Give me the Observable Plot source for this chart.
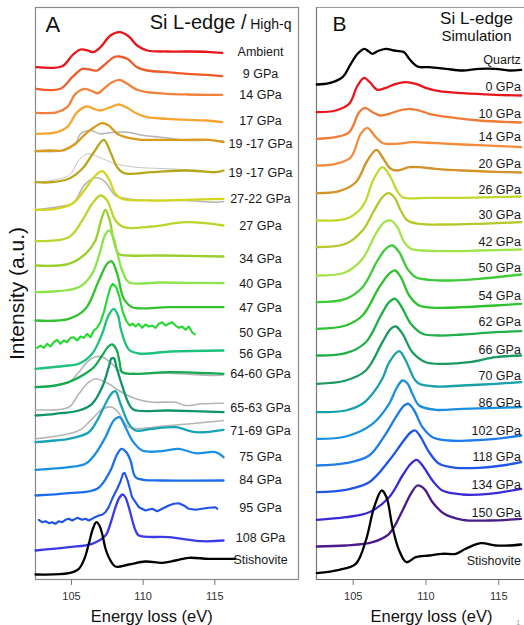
<!DOCTYPE html>
<html><head><meta charset="utf-8">
<script src="https://cdn.jsdelivr.net/npm/d3@7"></script>
<script src="https://cdn.jsdelivr.net/npm/@observablehq/plot@0.6"></script>
<style>
body{margin:0;background:#fff;}
#wrap{position:relative;width:524px;height:625px;overflow:hidden;}
#a,#b{position:absolute;top:0;}
#a{left:0;} #b{left:262px;}
</style></head><body><div id="wrap"><div id="a"></div><div id="b"></div></div>
<script>
// ---------- Panel A : experiment (Si L-edge / High-q) ----------
const labelsA = ["Ambient","9 GPa","14 GPa","17 GPa","19 -17 GPa","19 -17 GPa","27-22 GPa","27 GPa","34 GPa","40 GPa","47 GPa","50 GPa","56 GPa","64-60 GPa","65-63 GPa","71-69 GPa","75 GPa","84 GPa","95 GPa","108 GPa","Stishovite"];
const labelYA = [528,506,485,459,436,407,381,354,321,296,272,247,226,206,172,149,123,100,72,42,20];
const noisyA = [11,18];
const spectraA = [
 [[102.54,512.3],[104.35,513.3],[105.05,524],[105.63,530],[106.14,529],[106.51,527.3],[107.02,532.3],[107.72,544],[108.35,547.3],[109.00,543],[109.58,534],[110.28,529],[111.68,528],[113.07,528],[114.47,527.7],[115.52,526.7]],
 [[102.54,490.7],[104.23,490.7],[105.05,502.3],[105.75,510.7],[106.28,510],[106.79,509],[107.25,514],[107.95,522.3],[108.30,523],[108.89,520.7],[109.58,512.3],[110.28,509],[111.68,507.3],[113.07,505.7],[114.47,504.7],[115.52,503.3]],
 [[102.54,466.7],[104.00,467.3],[104.70,472.3],[105.28,485.7],[105.93,490.7],[106.44,488.3],[106.86,486.3],[107.25,490.7],[107.84,497.3],[108.35,499.7],[108.89,495.7],[109.58,489.7],[110.28,487.3],[111.68,485.7],[113.07,485],[114.47,484.7],[115.52,484.7]],
 [[102.54,445.7],[104.00,447.3],[104.70,452.3],[105.40,467.3],[106.05,473],[106.56,470.7],[107.02,469],[107.72,472.3],[108.30,475],[108.89,471.7],[109.58,465.7],[110.28,462.3],[111.68,460.7],[113.07,459.7],[114.47,459],[115.52,457.3]],
 [[102.49,428.3],[103.53,429],[104.35,429],[105.28,435.7],[105.98,445.7],[106.56,452],[107.14,456.3],[107.60,454],[108.19,445.7],[108.77,442.3],[109.82,439.7],[110.63,439.7],[112.96,439.7],[114.58,439.7],[115.61,437.3]],
 [[102.49,397.3],[103.65,397.3],[104.81,400.7],[105.75,410.7],[106.56,427.3],[107.25,439.7],[107.72,427.3],[108.19,412.3],[108.65,406.3],[110.63,407.3],[112.96,409],[115.05,407.3],[115.61,409]],
 [[102.49,369.7],[103.88,370.7],[105.05,375.7],[105.98,390.7],[106.56,402.3],[107.14,408.3],[107.60,400.7],[108.07,385.7],[108.54,380.7],[110.63,379],[112.96,379.7],[115.61,380.7]],
 [[102.49,338.3],[104.81,342.3],[105.75,359],[106.44,375.7],[107.02,384],[107.49,379],[108.07,359],[108.65,352.3],[110.63,353],[112.96,357.3],[115.61,354]],
 [[102.49,314],[104.81,315.7],[105.98,325.7],[106.67,339],[107.06,359],[107.37,369.7],[107.67,359],[107.95,339],[108.30,325.7],[109.00,324],[111.21,324],[115.61,323]],
 [[102.49,287.3],[105.51,292.3],[106.44,305.7],[107.02,329],[107.30,343],[107.60,349],[107.90,343],[108.19,327],[108.54,309],[109.00,297.3],[111.21,297],[115.61,296.3]],
 [[102.49,259],[104.81,260.7],[105.98,270.7],[106.91,299],[107.49,315.7],[107.79,318.3],[108.19,305.7],[108.65,280.7],[109.24,272.3],[111.79,272.3],[115.61,272.3]],
 [[102.60,231.7],[102.84,234],[103.07,231.7],[103.30,235.7],[103.53,233],[103.77,237.3],[104.00,239.7],[104.23,235.7],[104.47,239],[104.70,237.3],[104.93,241.7],[105.16,242.3],[105.40,239],[105.63,243],[105.86,241.7],[106.09,245.7],[106.33,242.3],[106.56,249],[106.79,251.7],[107.02,257.3],[107.26,267.3],[107.49,280.7],[107.72,292.3],[107.88,295.7],[108.12,292.3],[108.35,282.3],[108.58,267.3],[108.81,259],[109.05,254],[109.28,255.7],[109.47,253],[109.70,255.7],[109.93,251.7],[110.16,255],[110.40,253],[110.63,254],[110.86,251.7],[111.09,255.7],[111.33,257.3],[111.56,254],[111.79,255.7],[112.03,257.3],[112.26,254],[112.49,251.7],[112.72,253],[112.96,249.7],[113.19,253],[113.42,247.3],[113.61,245]],
 [[102.49,210.7],[104.81,214],[105.51,215.7],[106.44,225.7],[107.14,245.7],[107.58,264],[107.95,270.7],[108.25,264],[108.45,250],[109.00,230],[109.70,226],[111.91,228],[115.61,229]],
 [[102.49,192.3],[103.88,194],[104.81,197.3],[105.75,204],[106.56,212.3],[107.14,224],[107.58,233],[107.84,235],[108.14,230],[108.35,218],[108.54,207.3],[109.47,205.7],[111.79,207.3],[115.61,205.7]],
 [[102.49,164],[103.88,165.7],[105.51,169],[106.44,175.7],[107.14,192.3],[107.60,212.3],[107.79,221],[107.97,221],[108.14,212.3],[108.42,199],[109.00,175.7],[109.35,169.7],[111.79,169],[115.61,167.3]],
 [[102.49,137.3],[103.88,139],[104.81,140.7],[106.21,147.3],[106.79,159],[107.49,179],[107.86,187],[108.07,188.3],[108.42,175.7],[109.00,155.7],[109.47,149],[110.63,150.7],[112.26,152.3],[113.65,147.3],[115.61,149.7]],
 [[102.49,109.7],[104.81,112.3],[105.98,115.7],[106.67,125.7],[107.37,142.3],[107.95,159],[108.35,162.3],[108.77,152.3],[109.24,139],[109.93,129],[111.33,128.3],[112.49,130.7],[113.65,126.3],[115.05,127.3],[115.61,122.3]],
 [[102.49,84],[104.81,86.3],[106.79,90.7],[107.72,109],[108.14,124],[108.49,130.7],[108.84,127],[109.12,119],[109.47,102.3],[110.05,99.7],[111.21,99],[115.61,99]],
 [[102.72,59.7],[102.95,57.3],[103.19,58.3],[103.42,56.3],[103.65,57.3],[103.88,55.7],[104.12,58.3],[104.35,57.3],[104.58,59.7],[104.81,60.7],[105.05,59],[105.40,61.7],[105.74,59.7],[105.98,60.7],[106.21,59],[106.56,61.7],[106.91,64],[107.14,64.7],[107.37,67.3],[107.60,72.3],[107.84,80.7],[108.19,90.7],[108.42,98],[108.60,106],[108.72,106.5],[108.92,99],[109.23,82.3],[109.70,72.3],[110.16,69],[110.63,70.7],[110.98,68.3],[111.33,70.7],[111.79,74],[112.14,75.7],[112.49,76.3],[112.84,74],[113.19,70.7],[113.65,69.7],[114.12,70.7],[114.58,71.7],[115.05,72.3],[115.17,70.7]],
 [[102.49,29],[104.81,32.3],[106.44,35.7],[107.37,44],[107.72,56],[108.07,72.3],[108.35,82],[108.58,85],[108.77,82],[109.00,72.3],[109.47,49],[109.70,44],[111.79,42.3],[114.12,38.3],[115.61,39]],
 [[102.49,5],[104.81,6.3],[105.51,10.7],[105.91,21],[106.21,35.7],[106.50,51],[106.74,57.3],[106.95,54],[107.14,45.7],[107.37,31],[107.60,22.3],[108.07,13],[109.00,15],[110.16,18],[111.33,16.7],[112.26,19],[113.19,21.7],[114.58,20.7],[116.44,20.7]]
];
// grey reference spectra drawn under some of the experimental curves
const refIndexA = [4,5,6,13,14,15];
const refSpectraA = [
 [[102.49,428.3],[104.35,429],[105.28,436],[105.63,445.7],[106.33,449],[107.02,445.7],[107.95,447.3],[108.89,447.3],[110.05,444],[111.21,442.3],[112.14,440.7],[113.07,439],[114.5,439.3],[115.61,438.5]],
 [[102.49,397],[104.81,404],[105.51,419],[106.10,425.7],[106.91,422.3],[108.07,415.7],[109.47,412.3],[111.79,410.7],[114.12,409]],
 [[102.49,369.7],[105.05,375.7],[105.28,379],[105.98,395.7],[106.79,401.7],[107.37,397.3],[108.07,384],[109.47,379.7],[112.96,379],[115.05,377.3],[115.61,378]],
 [[102.49,192.3],[104.81,197.3],[105.51,207.3],[106.21,219],[106.74,223],[107.23,222],[107.86,215],[108.54,207.3],[111.79,206.3],[115.05,204],[115.61,204.5]],
 [[102.49,169.7],[104.81,172.3],[105.51,185.7],[106.21,197.3],[106.67,200.7],[107.60,195.7],[108.30,189],[109.47,180.7],[110.63,177.3],[112.26,177.3],[112.96,174],[114.12,175.7],[115.61,176.3]],
 [[102.49,140.7],[105.51,149],[106.44,160.7],[107.23,171],[107.84,172.3],[108.28,167],[109.00,152.3],[111.79,154],[115.61,159]]
];

// ---------- Panel B : simulation ----------
const labelsB = ["Quartz","0 GPa","10 GPa","14 GPa","20 GPa","26 GPa","30 GPa","42 GPa","50 GPa","54 GPa","62 GPa","66 GPa","70 GPa","86 GPa","102 GPa","118 GPa","134 GPa","150 GPa","Stishovite"];
const labelYB = [519.7,493,465.7,442.3,415.7,389.7,364.7,337.3,311.3,284,257.3,229.7,204,176.3,149,122.3,95,66.3,18.3];
const spectraB = [
 [[102.50,495],[103.35,496.3],[104.27,502.3],[104.84,515.7],[105.30,525.7],[105.76,530.7],[106.05,528.3],[106.33,525.7],[106.67,528.3],[107.24,530.7],[107.82,529],[108.16,528.3],[108.50,527.3],[108.85,520.7],[109.42,513],[110.22,512.3],[111.36,510.7],[112.51,509],[113.65,510.7],[114.79,510.7],[115.71,509],[116.54,509.7]],
 [[102.50,467.3],[103.80,469],[104.73,475.7],[105.30,494],[105.76,501.7],[106.14,497.3],[106.67,489.7],[107.24,491.7],[107.93,495.7],[108.61,497.3],[109.30,495.7],[109.99,491.7],[110.91,488.3],[112.51,486.3],[114.79,484.7],[116.54,484]],
 [[102.50,440.7],[103.80,442.3],[104.73,447.3],[105.41,467.3],[105.82,471.7],[106.33,467.3],[106.90,464],[107.47,465.7],[108.16,469],[108.85,470.7],[109.53,469],[110.22,465.7],[111.59,462.3],[113.65,459],[116.54,457]],
 [[102.50,414],[103.80,415.7],[104.84,422.3],[105.52,445.7],[105.98,451.7],[106.55,442.3],[107.06,436.3],[107.93,435.7],[109.07,437.3],[110.67,436.3],[112.51,435],[114.79,433.7],[116.54,432.3]],
 [[102.50,386.3],[104.04,388.3],[105.18,397.3],[105.98,419],[106.60,429.7],[107.01,422.3],[107.58,410.7],[108.04,409],[108.85,412.3],[109.53,412.3],[110.67,410.7],[112.51,409],[114.79,407.7],[116.54,407]],
 [[102.50,359],[104.49,360.7],[105.41,369],[105.87,379],[106.33,398],[107.01,412.3],[107.58,402],[108.04,388],[108.39,382.3],[110.22,381.7],[112.51,381.7],[114.79,382.3],[116.54,383]],
 [[102.50,332.3],[104.49,335.7],[105.64,349],[106.44,369],[107.01,382.3],[107.42,386.3],[107.82,382.3],[108.27,369],[108.73,359],[109.53,355.7],[111.36,355],[113.65,355.7],[116.54,357.3]],
 [[102.50,304],[104.49,307.3],[105.64,320.7],[106.55,345.7],[107.13,357.3],[107.58,359],[108.04,352.3],[108.50,337.3],[108.96,330.7],[109.76,329],[111.59,328.3],[113.65,329],[116.54,330]],
 [[102.50,277.3],[104.49,280.7],[105.64,292.3],[106.67,319],[107.24,330.7],[107.70,334],[108.16,327.3],[108.73,310.7],[109.30,302.3],[110.22,299.7],[111.59,299],[113.65,300.7],[116.54,305]],
 [[102.50,250.7],[104.49,254],[105.64,264],[106.79,292.3],[107.47,305.7],[107.88,309],[108.27,302.3],[108.85,284],[109.53,274],[110.67,271.7],[112.51,272.3],[114.79,274],[116.54,275.7]],
 [[102.50,224],[104.49,226.3],[105.87,237.3],[106.90,264],[107.47,277.3],[107.88,280.7],[108.27,274],[108.96,255.7],[109.76,245.7],[110.91,244],[112.51,245],[114.79,247.3],[116.54,248.3]],
 [[102.50,195.7],[104.49,199],[105.87,209],[107.01,237.3],[107.58,250.7],[107.93,253],[108.39,245.7],[109.07,227.3],[109.99,217.3],[111.13,215.7],[112.97,217.3],[114.79,222.3],[116.54,224]],
 [[102.50,167.3],[104.49,169],[105.64,175.7],[106.33,185.7],[107.01,201],[107.47,217],[108.16,228.3],[108.61,219],[109.19,200.7],[109.53,195.7],[110.67,193],[112.51,194],[114.79,195.7],[116.54,197.3]],
 [[102.50,140.7],[104.49,143],[106.33,155.7],[107.47,175.7],[107.97,191],[108.39,199],[108.73,196],[109.07,185.7],[109.53,174],[110.67,169.7],[112.51,170.7],[114.79,171.7],[116.54,172.3]],
 [[102.50,114],[104.49,116.3],[106.10,124],[107.24,145.7],[107.93,162.3],[108.50,174],[108.80,175.7],[109.19,169],[109.76,152.3],[110.45,142.3],[111.59,139],[112.97,139],[114.79,140.7],[116.54,144]],
 [[102.50,87.3],[104.49,89.7],[106.10,97.3],[107.47,119],[108.39,137.3],[108.96,147.3],[109.26,149],[109.64,142.3],[110.22,127.3],[110.91,115.7],[112.05,111.7],[113.65,111.7],[115.25,114],[116.54,117.3]],
 [[102.50,59.7],[104.49,62.3],[106.10,67.3],[107.47,82.3],[108.39,104],[108.96,115.7],[109.35,119.7],[109.76,114],[110.45,99],[111.13,89],[112.51,85],[114.34,85.7],[116.54,90.7]],
 [[102.50,33],[104.49,34],[106.33,37.3],[107.47,45.7],[108.39,69],[108.96,85.7],[109.42,94],[109.88,90.7],[110.45,77.3],[111.25,65.7],[112.51,59.7],[114.34,59],[116.54,60.7]],
 [[102.50,6.3],[104.04,9.7],[105.18,15.7],[105.87,39],[106.44,72.3],[106.96,89],[107.29,82.3],[107.70,52.3],[108.16,29],[108.66,17.3],[109.30,22.3],[110.22,24],[111.13,25.7],[112.05,25.7],[112.73,30.7],[113.76,36.3],[114.79,34],[115.71,34],[116.54,35]]
];
const ticksX = [105,110,115];

// ---------- styles ----------
const colorsA = ["#e8161b","#ef5b2a","#f2813a","#f6a531","#d99a1e","#b7a71e","#d3d51f","#bcd52d","#99cf2b","#8de34c","#34c12f","#24d830","#1fc27c","#17a94f","#119568","#19a3b5","#1c8fe1","#1a6ee9","#1f52e6","#3b3be8","#000000"];
const colorsB = ["#000000","#e8161b","#f07a38","#f28b3c","#d09428","#c2d82b","#b6c72a","#a0e44a","#3ecb3a","#2dc22d","#22ae48","#1a9960","#17a1a9","#1b8fe0","#1e7ce8","#1f55e6","#3a2ad6","#4b1b8c","#000000"];
const FONT = "'Liberation Sans', Arial, Helvetica, sans-serif";

const toRows = (spectra, ids) => spectra.flatMap((pts, k) => pts.map(([x, y]) => ({x, y, i: ids ? ids[k] : k})));
const rowsA = toRows(spectraA);
const refRowsA = toRows(refSpectraA, refIndexA);
const rowsB = toRows(spectraB);

const plotA = Plot.plot({
  width: 300, height: 625,
  marginLeft: 35, marginRight: 2, marginTop: 7, marginBottom: 46,
  style: {fontFamily: FONT, background: "transparent"},
  x: {domain: [102.49, 120.84], axis: null},
  y: {domain: [0, 572], axis: null},
  color: {type: "identity"},
  marks: [
    Plot.frame({stroke: "#8a8a8a", strokeWidth: 1.2}),
    Plot.axisX({ticks: ticksX, tickSize: 6, tickPadding: 7, fontSize: 11, stroke: "#777", fill: "#333", label: null}),
    Plot.line(refRowsA.filter(d => d.i !== 5), {x: "x", y: "y", z: "i", stroke: "#b5b5b5", strokeWidth: 1.6, curve: "catmull-rom"}),
    Plot.line(refRowsA.filter(d => d.i === 5), {x: "x", y: "y", z: "i", stroke: "#c4c4c4", strokeWidth: 1, curve: "catmull-rom"}),
    Plot.line(rowsA.filter(d => !noisyA.includes(d.i)), {x: "x", y: "y", z: "i", stroke: d => colorsA[d.i], strokeWidth: 2.3, curve: "catmull-rom", strokeLinejoin: "round"}),
    Plot.line(rowsA.filter(d => noisyA.includes(d.i)), {x: "x", y: "y", z: "i", stroke: d => colorsA[d.i], strokeWidth: 2.1, curve: "linear", strokeLinejoin: "round"}),
    Plot.text(labelsA, {x: () => 118.19, y: (d, i) => labelYA[i], text: d => d, textAnchor: "middle", lineAnchor: "middle", fontSize: 12.5, fill: "#1a1a1a"}),
    Plot.text(["A"], {frameAnchor: "top-left", dx: 10, dy: 24, lineAnchor: "bottom", textAnchor: "start", fontSize: 22, fill: "#111"}),
    Plot.text(["Si L-edge /"], {frameAnchor: "top-right", dx: -52, dy: 21, lineAnchor: "bottom", textAnchor: "end", fontSize: 20, fill: "#111"}),
    Plot.text(["High-q"], {frameAnchor: "top-right", dx: -7, dy: 21, lineAnchor: "bottom", textAnchor: "end", fontSize: 14, fill: "#111"}),
    Plot.text(["Intensity (a.u.)"], {frameAnchor: "left", dx: -18, rotate: -90, textAnchor: "middle", lineAnchor: "middle", fontSize: 21, fill: "#111"}),
    Plot.text(["Energy loss (eV)"], {x: [110.6], frameAnchor: "bottom", dy: 42, lineAnchor: "bottom", textAnchor: "middle", fontSize: 16.5, fill: "#111"})
  ]
});
document.getElementById("a").append(plotA);

const plotB = Plot.plot({
  width: 262, height: 625,
  marginLeft: 54, marginRight: 0, marginTop: 7, marginBottom: 46,
  style: {fontFamily: FONT, background: "transparent", overflow: "visible"},
  x: {domain: [102.48, 116.77], axis: null},
  y: {domain: [0, 572], axis: null},
  color: {type: "identity"},
  marks: [
    Plot.ruleY([572], {stroke: "#9a9a9a", strokeWidth: 1.2}),
    Plot.ruleX([102.48], {stroke: "#777", strokeWidth: 1.2}),
    Plot.ruleY([0], {stroke: "#666", strokeWidth: 1.2}),
    Plot.axisX({ticks: ticksX, tickSize: 6, tickPadding: 7, fontSize: 11, stroke: "#777", fill: "#333", label: null}),
    Plot.line(rowsB, {x: "x", y: "y", z: "i", stroke: d => colorsB[d.i], strokeWidth: 2.3, curve: "catmull-rom", strokeLinejoin: "round"}),
    Plot.text(labelsB, {x: () => 116.52, y: (d, i) => labelYB[i], text: d => d, textAnchor: "end", lineAnchor: "middle", fontSize: 12.5, fill: "#1a1a1a"}),
    Plot.text(["B"], {frameAnchor: "top-left", dx: 16, dy: 23, lineAnchor: "bottom", textAnchor: "start", fontSize: 21, fill: "#111"}),
    Plot.text(["Si L-edge"], {x: [113.47], frameAnchor: "top", dy: 16.3, lineAnchor: "bottom", textAnchor: "middle", fontSize: 17, fill: "#111"}),
    Plot.text(["Simulation"], {x: [113.47], frameAnchor: "top", dy: 33.7, lineAnchor: "bottom", textAnchor: "middle", fontSize: 15, fill: "#111"}),
    Plot.text(["Energy loss (eV)"], {x: [110.38], frameAnchor: "bottom", dy: 42, lineAnchor: "bottom", textAnchor: "middle", fontSize: 16.5, fill: "#111"}),
    Plot.text(["1"], {frameAnchor: "bottom-right", dx: -4, dy: 45, lineAnchor: "bottom", textAnchor: "end", fontSize: 8, fill: "#aaa"})
  ]
});
document.getElementById("b").append(plotB);
</script>
</body></html>
